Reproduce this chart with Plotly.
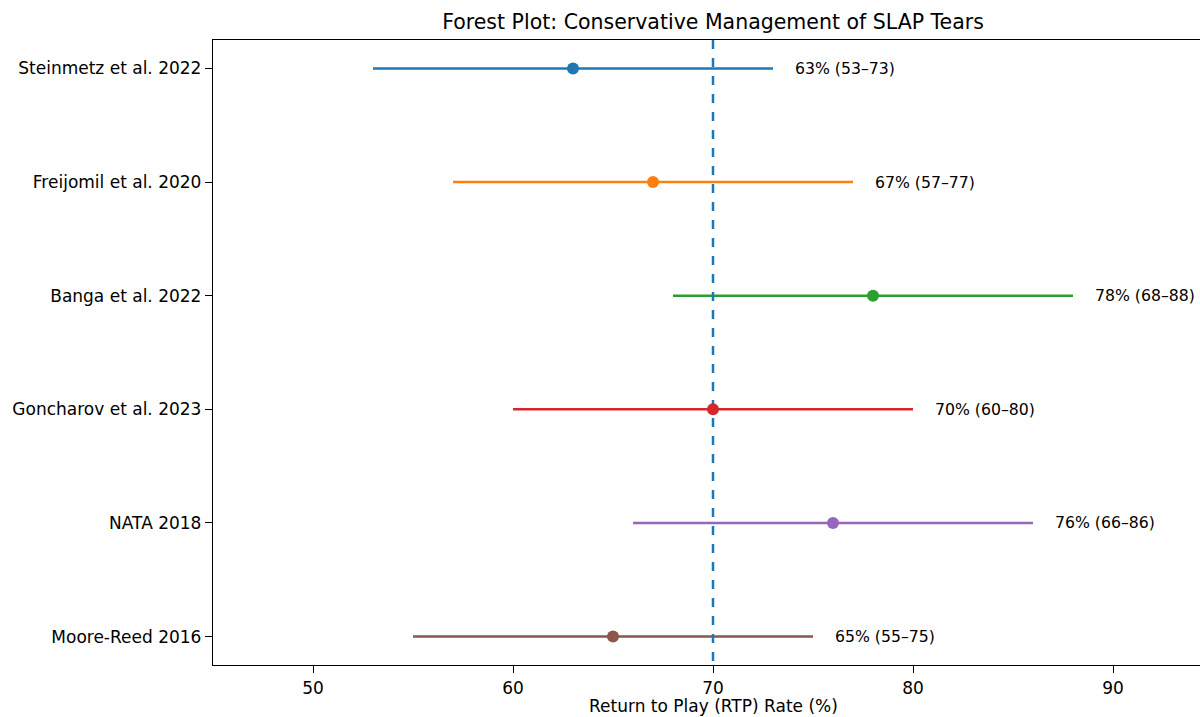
import plotly.graph_objects as go

studies = ["Steinmetz et al. 2022", "Freijomil et al. 2020", "Banga et al. 2022",
           "Goncharov et al. 2023", "NATA 2018", "Moore-Reed 2016"]
rtp = [63, 67, 78, 70, 76, 65]
lower = [53, 57, 68, 60, 66, 55]
upper = [73, 77, 88, 80, 86, 75]
colors = ["#1f77b4", "#ff7f0e", "#2ca02c", "#d62728", "#9467bd", "#8c564b"]
ref_line = 70
x_ticks = [50, 60, 70, 80, 90]

W, H = 1200, 717
L, R, T, B = 213, 0, 40, 52
font = "DejaVu Sans"
ylo, yhi = -0.25, len(studies) - 1 + 0.25

fig = go.Figure()
# CI lines
for i, s in enumerate(studies):
    fig.add_trace(go.Scatter(
        x=[lower[i], upper[i]], y=[i, i], mode="lines",
        line=dict(color=colors[i], width=2.5),
        showlegend=False, hoverinfo="skip"))
# reference line (above CI lines, below points)
fig.add_trace(go.Scatter(
    x=[ref_line, ref_line], y=[ylo, yhi], mode="lines",
    line=dict(color="#1f77b4", width=2.5, dash="dash"),
    showlegend=False, hoverinfo="skip"))
# point estimates
for i, s in enumerate(studies):
    fig.add_trace(go.Scatter(
        x=[rtp[i]], y=[i], mode="markers",
        marker=dict(color=colors[i], size=12),
        showlegend=False, hoverinfo="skip"))
    fig.add_annotation(x=upper[i] + 1, y=i, text=f"{rtp[i]}% ({lower[i]}–{upper[i]})",
                       showarrow=False, xanchor="left", yanchor="middle",
                       font=dict(family=font, size=15.7, color="black"))

# x range so that 45..95 spans 213..1213 (image cropped at 1200)
xmin = 45
xmax = 45 + (W - L) / 20.0

fig.update_layout(
    width=W, height=H, plot_bgcolor="white", paper_bgcolor="white",
    margin=dict(l=L, r=R, t=T, b=B),
    title=dict(text="Forest Plot: Conservative Management of SLAP Tears",
               x=713 / W, xref="container", xanchor="center",
               y=1 - 22 / H, yref="container", yanchor="middle",
               font=dict(family=font, size=20.5, color="black")),
    xaxis=dict(range=[xmin, xmax], tickvals=x_ticks, showgrid=False, zeroline=False,
               showline=True, linecolor="black", linewidth=1.3, mirror=True,
               ticks="outside", ticklen=7, tickcolor="black", tickwidth=1.3,
               tickfont=dict(family=font, size=17, color="black")),
    yaxis=dict(range=[yhi, ylo], tickvals=list(range(len(studies))), ticktext=studies,
               showgrid=False, zeroline=False, showline=True, linecolor="black",
               linewidth=1.3, ticks="outside", ticklen=7, tickcolor="black", tickwidth=1.3,
               tickfont=dict(family=font, size=17, color="black")),
)
fig.add_annotation(text="Return to Play (RTP) Rate (%)",
                   xref="paper", x=(713 - L) / (W - L - R),
                   yref="paper", y=-(706 - (H - B)) / (H - T - B),
                   showarrow=False, xanchor="center", yanchor="middle",
                   font=dict(family=font, size=17, color="black"))

fig.write_html("out.html", config={"displayModeBar": False},
               post_script="document.body.style.margin='0';document.body.style.overflow='hidden';")
